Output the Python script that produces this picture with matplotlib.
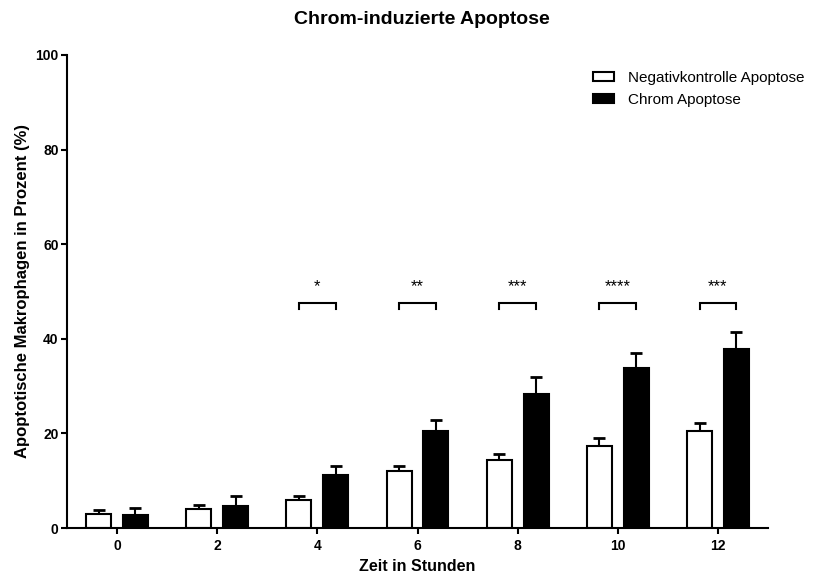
import numpy as np
import matplotlib
matplotlib.use('Agg')
import matplotlib.pyplot as plt

plt.rcParams['font.family'] = ['Liberation Sans', 'DejaVu Sans']

# data
hours = ['0', '2', '4', '6', '8', '10', '12']
kontrolle = [3.0, 4.0, 5.9, 12.1, 14.4, 17.3, 20.5]
kontrolle_err = [0.8, 0.8, 0.9, 1.1, 1.2, 1.7, 1.7]
chrom = [2.7, 4.6, 11.3, 20.5, 28.3, 33.8, 37.8]
chrom_err = [1.5, 2.2, 1.9, 2.3, 3.6, 3.1, 3.6]
sig_groups = [2, 3, 4, 5, 6]
sig_labels = ['*', '**', '***', '****', '***']
bracket_y = 47.6

fig = plt.figure(figsize=(8.14, 5.76), dpi=100)
ax = fig.add_axes([67/814, 1-528/576, (768-67)/814, (528-55)/576])

x = np.arange(len(hours))
off = 0.184
w = 0.25
ax.bar(x - off, kontrolle, w, color='white', edgecolor='black', linewidth=1.5,
       label='Negativkontrolle Apoptose', zorder=2)
ax.bar(x + off, chrom, w, color='black', edgecolor='black', linewidth=1.5,
       label='Chrom Apoptose', zorder=2)
ax.errorbar(x - off, kontrolle, yerr=[np.zeros(len(x)), kontrolle_err], fmt='none',
            ecolor='black', elinewidth=1.5, capsize=4.5, capthick=2, zorder=1)
ax.errorbar(x + off, chrom, yerr=[np.zeros(len(x)), chrom_err], fmt='none',
            ecolor='black', elinewidth=1.5, capsize=4.5, capthick=2, zorder=1)

# significance brackets
for g, lab in zip(sig_groups, sig_labels):
    ax.plot([g - off, g - off, g + off, g + off],
            [bracket_y - 1.4, bracket_y, bracket_y, bracket_y - 1.4],
            color='black', linewidth=1.5, solid_joinstyle='miter')
    ax.text(g, bracket_y + 1.8, lab, ha='center', va='bottom', fontsize=12)

ax.set_xlim(-0.5, 6.5)
ax.set_ylim(0, 100)
ax.set_xticks(x)
ax.set_xticklabels(hours)
ax.set_yticks([0, 20, 40, 60, 80, 100])
for s in ['top', 'right']:
    ax.spines[s].set_visible(False)
for s in ['left', 'bottom']:
    ax.spines[s].set_linewidth(1.5)
ax.tick_params(axis='both', width=1.5, length=4.5, labelsize=10)
ax.tick_params(axis='y', pad=1.5)
for t in ax.get_xticklabels() + ax.get_yticklabels():
    t.set_fontweight('bold')

ax.set_xlabel('Zeit in Stunden', fontsize=11.5, fontweight='bold', labelpad=4)
ax.set_ylabel('Apoptotische Makrophagen in Prozent (%)', fontsize=12,
              fontweight='bold', labelpad=4)
fig.text(422/814, 1-19/576, 'Chrom-induzierte Apoptose', ha='center', va='center',
         fontsize=14, fontweight='bold')

ax.legend(loc='upper left', bbox_to_anchor=(579/814, 1-57/576),
          bbox_transform=fig.transFigure, frameon=False, fontsize=11,
          handlelength=1.4, handleheight=0.5, handletextpad=0.9, labelspacing=0.55)

fig.savefig('out.png', dpi=100)
